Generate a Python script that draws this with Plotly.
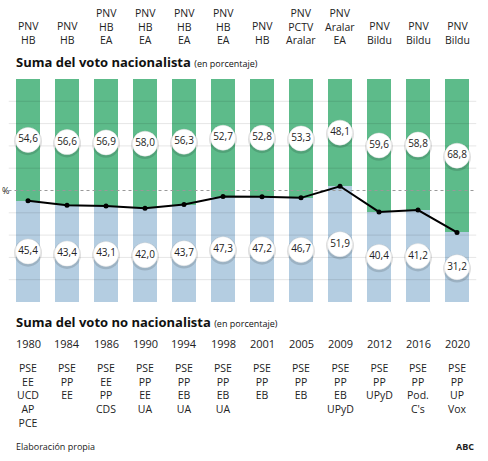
import plotly.graph_objects as go

years = ["1980", "1984", "1986", "1990", "1994", "1998", "2001", "2005", "2009", "2012", "2016", "2020"]
nacionalista = [54.6, 56.6, 56.9, 58.0, 56.3, 52.7, 52.8, 53.3, 48.1, 59.6, 58.8, 68.8]
no_nacionalista = [45.4, 43.4, 43.1, 42.0, 43.7, 47.3, 47.2, 46.7, 51.9, 40.4, 41.2, 31.2]
partidos_nac = ["PNV<br>HB", "PNV<br>HB", "PNV<br>HB<br>EA", "PNV<br>HB<br>EA", "PNV<br>HB<br>EA",
                "PNV<br>HB<br>EA", "PNV<br>HB", "PNV<br>PCTV<br>Aralar", "PNV<br>Aralar<br>EA",
                "PNV<br>Bildu", "PNV<br>Bildu", "PNV<br>Bildu"]
partidos_no_nac = ["PSE<br>EE<br>UCD<br>AP<br>PCE", "PSE<br>PP<br>EE", "PSE<br>EE<br>PP<br>CDS",
                   "PSE<br>PP<br>EE<br>UA", "PSE<br>PP<br>EB<br>UA", "PSE<br>PP<br>EB<br>UA",
                   "PSE<br>PP<br>EB", "PSE<br>PP<br>EB", "PSE<br>PP<br>EB<br>UPyD",
                   "PSE<br>PP<br>UPyD", "PSE<br>PP<br>Pod.<br>C's", "PSE<br>PP<br>UP<br>Vox"]

W, H = 488, 461
FONT = "Open Sans"
GREEN = "#5dbb8a"
BLUE = "#b4cde1"
TXT = "#222222"


def py(v):
    return 1 - v / H


x = list(range(len(years)))

fig = go.Figure()
fig.add_trace(go.Bar(x=x, y=no_nacionalista, marker_color=BLUE, marker_line_width=0))
fig.add_trace(go.Bar(x=x, y=nacionalista, marker_color=GREEN, marker_line_width=0))

# gridlines drawn over the bars
for g in range(10, 100, 10):
    if g == 50:
        continue
    fig.add_trace(go.Scatter(x=[-0.5, 11.5], y=[g, g], mode="lines",
                             line=dict(color="rgba(0,0,0,0.10)", width=1), hoverinfo="skip"))
fig.add_trace(go.Scatter(x=[-0.5, 11.5], y=[50, 50], mode="lines",
                         line=dict(color="#999999", width=1, dash="dot"), hoverinfo="skip"))

fig.add_trace(go.Scatter(x=x, y=no_nacionalista, mode="lines+markers",
                         line=dict(color="black", width=2),
                         marker=dict(color="black", size=5)))

# label bubbles
ys_nac = [b + n / 2 for b, n in zip(no_nacionalista, nacionalista)]
ys_no = [b / 2 for b in no_nacionalista]
for ys, vals in [(ys_nac, nacionalista), (ys_no, no_nacionalista)]:
    fig.add_trace(go.Scatter(x=x, y=[v - 0.6 for v in ys], mode="markers",
                             marker=dict(size=28, color="rgba(0,0,0,0.13)", line_width=0),
                             hoverinfo="skip"))
    fig.add_trace(go.Scatter(x=x, y=ys, mode="markers+text",
                             marker=dict(size=25, color="white", line=dict(color="#e6e6e6", width=0.5)),
                             text=[f"{v:.1f}".replace(".", ",") for v in vals],
                             textposition="middle center",
                             textfont=dict(family=FONT, size=10, color=TXT)))

ann = []
for i in x:
    ann.append(dict(x=i, y=py(49), xref="x", yref="paper", text=partidos_nac[i],
                    showarrow=False, yanchor="bottom", font=dict(family=FONT, size=10.5, color=TXT)))
    ann.append(dict(x=i, y=py(343), xref="x", yref="paper", text=years[i],
                    showarrow=False, yanchor="middle", font=dict(family=FONT, size=11, color=TXT)))
    ann.append(dict(x=i, y=py(359), xref="x", yref="paper", text=partidos_no_nac[i],
                    showarrow=False, yanchor="top", font=dict(family=FONT, size=10.5, color=TXT)))

ann.append(dict(x=14 / W, y=py(62), xref="paper", yref="paper", xanchor="left", yanchor="middle",
                showarrow=False, font=dict(family=FONT, size=13, color="#111111"),
                text="<b>Suma del voto nacionalista</b> <span style='font-size:9px'>(en porcentaje)</span>"))
ann.append(dict(x=14 / W, y=py(322), xref="paper", yref="paper", xanchor="left", yanchor="middle",
                showarrow=False, font=dict(family=FONT, size=13, color="#111111"),
                text="<b>Suma del voto no nacionalista</b> <span style='font-size:9px'>(en porcentaje)</span>"))
ann.append(dict(x=0, y=50, xref="paper", yref="y", xanchor="left", yanchor="middle",
                showarrow=False, text="%", font=dict(family=FONT, size=9, color=TXT)))
ann.append(dict(x=14 / W, y=py(446), xref="paper", yref="paper", xanchor="left", yanchor="middle",
                showarrow=False, text="Elaboración propia", font=dict(family=FONT, size=9, color=TXT)))
ann.append(dict(x=476 / W, y=py(446), xref="paper", yref="paper", xanchor="right", yanchor="middle",
                showarrow=False, text="<b>ABC</b>", font=dict(family=FONT, size=9, color=TXT)))

fig.update_layout(
    width=W, height=H, margin=dict(l=0, r=0, t=0, b=0),
    paper_bgcolor="white", plot_bgcolor="white",
    barmode="stack", bargap=0.385, showlegend=False,
    xaxis=dict(domain=[8.5 / W, 476.5 / W], range=[-0.5, 11.5], showgrid=False,
               showticklabels=False, zeroline=False, fixedrange=True),
    yaxis=dict(domain=[py(302), py(79)], range=[0, 100], showgrid=False,
               showticklabels=False, zeroline=False, fixedrange=True),
    annotations=ann,
)

fig.write_html("out.html", config={"displayModeBar": False},
               post_script="document.body.style.margin='0';document.body.style.overflow='hidden';")
